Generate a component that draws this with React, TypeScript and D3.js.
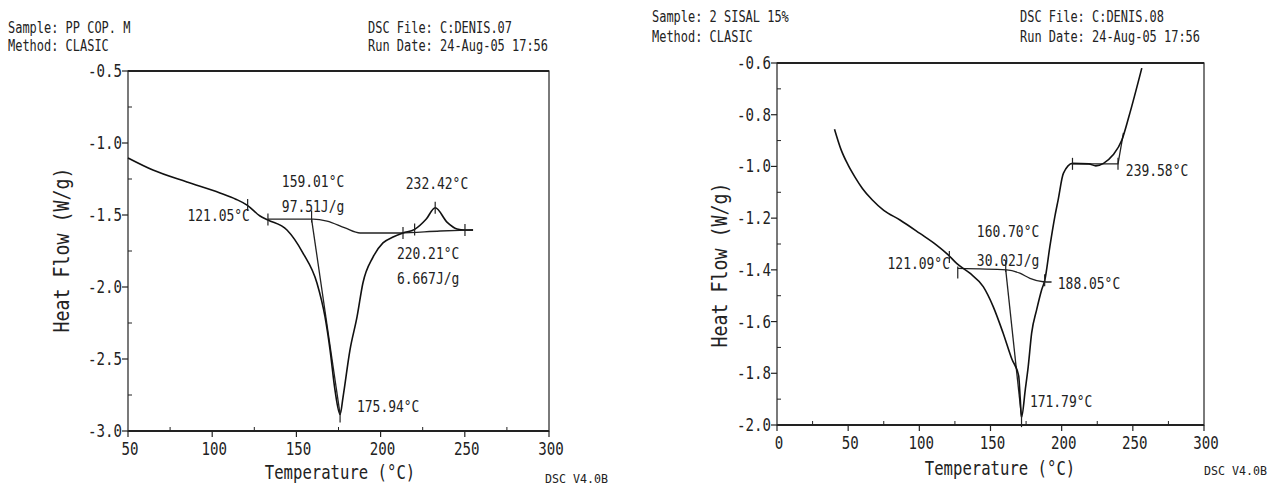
import React, { useEffect, useRef } from "react";
import * as d3 from "d3";

const FONT = "'DejaVu Sans Mono', monospace";

// ---- left run: PP COP. M (C:DENIS.07) ----
const ppHeader = ["Sample: PP COP. M", "Method: CLASIC", "DSC File: C:DENIS.07", "Run Date: 24-Aug-05 17:56"];
const ppXTicks = [50, 100, 150, 200, 250, 300];
const ppYTicks = [-0.5, -1.0, -1.5, -2.0, -2.5, -3.0];
const ppCurve: [number, number][] = [
  [50, -1.104], [64.8, -1.188], [85, -1.271], [104.6, -1.347], [114, -1.39], [120.7, -1.431],
  [128.4, -1.507], [133.1, -1.535], [144.4, -1.604], [153.9, -1.764], [162.2, -1.972],
  [167, -2.208], [170, -2.438], [172.9, -2.715], [175.94, -2.885], [177.7, -2.764],
  [181.8, -2.438], [186, -2.208], [189.5, -1.972], [195.5, -1.792], [201.4, -1.694],
  [207.4, -1.653], [213.3, -1.625], [220.21, -1.6], [227, -1.53], [232.42, -1.45],
  [239.4, -1.549], [245.4, -1.597], [250.1, -1.604], [254.9, -1.604],
];
const ppBaseline: [number, number][] = [
  [133.1, -1.528], [159.9, -1.528], [168.2, -1.542], [178.9, -1.59], [187.8, -1.625],
  [211.5, -1.625], [235.3, -1.611], [254.9, -1.604],
];
const ppIntegral: [number, number][] = [[159.01, -1.528], [175.94, -2.885]];
const ppMarks: [number, number][] = [
  [121.05, -1.431], [133.1, -1.532], [159.01, -1.51], [175.94, -2.9], [213.3, -1.625],
  [220.21, -1.6], [232.42, -1.45], [250.1, -1.604],
];
const ppLabels: { text: string; t: number; v: number; anchor: string }[] = [
  { text: "121.05°C", t: 122.4, v: -1.5, anchor: "end" },
  { text: "159.01°C", t: 159.9, v: -1.264, anchor: "middle" },
  { text: "97.51J/g", t: 159.9, v: -1.444, anchor: "middle" },
  { text: "232.42°C", t: 233.5, v: -1.278, anchor: "middle" },
  { text: "220.21°C", t: 209.7, v: -1.764, anchor: "start" },
  { text: "6.667J/g", t: 209.7, v: -1.9375, anchor: "start" },
  { text: "175.94°C", t: 186, v: -2.833, anchor: "start" },
];

// ---- right run: 2 SISAL 15% (C:DENIS.08) ----
const sisHeader = ["Sample: 2 SISAL 15%", "Method: CLASIC", "DSC File: C:DENIS.08", "Run Date: 24-Aug-05 17:56"];
const sisXTicks = [0, 50, 100, 150, 200, 250, 300];
const sisYTicks = [-0.6, -0.8, -1.0, -1.2, -1.4, -1.6, -1.8, -2.0];
const sisCurve: [number, number][] = [
  [40.4, -0.856], [45, -0.935], [50, -0.995], [55, -1.043], [60, -1.085], [67, -1.13],
  [75, -1.17], [86.4, -1.207], [100.4, -1.259], [112.1, -1.304], [120.3, -1.342], [126.2, -1.375],
  [135.5, -1.413], [144.9, -1.465], [151.9, -1.542], [158.9, -1.645], [165, -1.745],
  [169.8, -1.81], [170.9, -1.9], [171.79, -1.97], [174.5, -1.86], [176.5, -1.774],
  [178.9, -1.645], [182.4, -1.555], [185.9, -1.478], [188.2, -1.439], [191.7, -1.31],
  [195.2, -1.194], [197.5, -1.13], [201.2, -1.027], [207.6, -0.988], [219.1, -0.99],
  [224, -0.998], [229.4, -0.988], [236, -0.956], [242.3, -0.898], [247.2, -0.808],
  [256.3, -0.62],
];
const sisBaseline: [number, number][] = [
  [127, -1.394], [161.3, -1.4], [170.6, -1.413], [177.7, -1.433], [187, -1.446], [192.9, -1.447],
];
const sisIntegral: [number, number][] = [[160.7, -1.4], [171.79, -1.97]];
const sisStep: [number, number][] = [[207.6, -0.99], [239.58, -0.99], [243.4, -0.87]];
const sisMarks: [number, number][] = [
  [121.09, -1.35], [127, -1.41], [160.7, -1.385], [171.79, -1.985], [188.05, -1.44],
  [207.6, -0.99], [239.58, -0.99],
];
const sisLabels: { text: string; t: number; v: number; anchor: string }[] = [
  { text: "121.09°C", t: 121.5, v: -1.377, anchor: "end" },
  { text: "160.70°C", t: 140.4, v: -1.25, anchor: "start" },
  { text: "30.02J/g", t: 140.4, v: -1.362, anchor: "start" },
  { text: "188.05°C", t: 197.3, v: -1.451, anchor: "start" },
  { text: "171.79°C", t: 177.7, v: -1.911, anchor: "start" },
  { text: "239.58°C", t: 245.1, v: -1.014, anchor: "start" },
];

type Panel = {
  header: string[];
  headerY: [number, number];
  headerX: [number, number];
  xDomain: [number, number];
  yDomain: [number, number];
  left: number; right: number; top: number; bottom: number;
  xTicks: number[]; yTicks: number[];
  xMinor: number; yMinor: number;
  curve: [number, number][];
  baseline: [number, number][];
  integral: [number, number][];
  extra?: [number, number][];
  marks: [number, number][];
  labels: { text: string; t: number; v: number; anchor: string }[];
  yTitle: [number, number];
  xTitle: [number, number];
  version: [number, number];
};

const panels: Panel[] = [
  {
    header: ppHeader, headerY: [28, 46], headerX: [8, 368],
    xDomain: [50, 300], yDomain: [-3.0, -0.5],
    left: 128, right: 549, top: 71, bottom: 431,
    xTicks: ppXTicks, yTicks: ppYTicks, xMinor: 25, yMinor: 0.25,
    curve: ppCurve, baseline: ppBaseline, integral: ppIntegral, marks: ppMarks, labels: ppLabels,
    yTitle: [62, 250], xTitle: [340, 472], version: [545, 478],
  },
  {
    header: sisHeader, headerY: [17, 37], headerX: [652, 1020],
    xDomain: [0, 300], yDomain: [-2.0, -0.6],
    left: 777, right: 1204, top: 63, bottom: 425,
    xTicks: sisXTicks, yTicks: sisYTicks, xMinor: 25, yMinor: 0.1,
    curve: sisCurve, baseline: sisBaseline, integral: sisIntegral, extra: sisStep, marks: sisMarks, labels: sisLabels,
    yTitle: [720, 265], xTitle: [1000, 468], version: [1204, 470],
  },
];

const txt = (g: any, s: string, x: number, y: number, size: number, cw: number, anchor = "start") =>
  g.append("text")
    .attr("x", x).attr("y", y)
    .attr("dominant-baseline", "central")
    .attr("text-anchor", anchor)
    .attr("font-family", FONT)
    .attr("font-size", size)
    .attr("textLength", s.length * cw)
    .attr("lengthAdjust", "spacingAndGlyphs")
    .attr("fill", "#222")
    .text(s);

export default function App() {
  const svgRef = useRef<SVGSVGElement>(null);

  useEffect(() => {
    const svg = d3.select(svgRef.current);
    svg.selectAll("*").remove();

    panels.forEach(p => {
      const g = svg.append("g");
      const x = d3.scaleLinear().domain(p.xDomain).range([p.left, p.right]);
      const y = d3.scaleLinear().domain(p.yDomain).range([p.bottom, p.top]);

      // header
      txt(g, p.header[0], p.headerX[0], p.headerY[0], 15, 7.2);
      txt(g, p.header[1], p.headerX[0], p.headerY[1], 15, 7.2);
      txt(g, p.header[2], p.headerX[1], p.headerY[0], 15, 7.2);
      txt(g, p.header[3], p.headerX[1], p.headerY[1], 15, 7.2);

      // frame
      g.append("rect")
        .attr("x", p.left).attr("y", p.top)
        .attr("width", p.right - p.left).attr("height", p.bottom - p.top)
        .attr("fill", "none").attr("stroke", "#222").attr("stroke-width", 1.2);
      [p.top, p.bottom].forEach(yy =>
        g.append("line").attr("x1", p.left).attr("x2", p.right).attr("y1", yy).attr("y2", yy)
          .attr("stroke", "#222").attr("stroke-width", 2.2));

      // ticks (plain hyphen minus, as on the plotter)
      p.yTicks.forEach(v => {
        g.append("line").attr("x1", p.left - 6).attr("x2", p.left).attr("y1", y(v)).attr("y2", y(v))
          .attr("stroke", "#222").attr("stroke-width", 1.2);
        txt(g, v.toFixed(1), p.left - 6, y(v), 17, 8.5, "end");
      });
      d3.range(p.yDomain[0] + p.yMinor, p.yDomain[1], p.yMinor * 2).forEach(v =>
        g.append("line").attr("x1", p.left).attr("x2", p.left + 4).attr("y1", y(v)).attr("y2", y(v))
          .attr("stroke", "#222").attr("stroke-width", 1));
      p.xTicks.forEach(t => {
        g.append("line").attr("x1", x(t)).attr("x2", x(t)).attr("y1", p.bottom).attr("y2", p.bottom + 6)
          .attr("stroke", "#222").attr("stroke-width", 1.2);
        txt(g, String(t), x(t) + 2, p.bottom + 18, 17, 8.5, "middle");
      });
      d3.range(p.xDomain[0] + p.xMinor, p.xDomain[1], p.xMinor * 2).forEach(t =>
        g.append("line").attr("x1", x(t)).attr("x2", x(t)).attr("y1", p.bottom).attr("y2", p.bottom - 4)
          .attr("stroke", "#222").attr("stroke-width", 1));

      // titles
      txt(g, "Temperature (°C)", p.xTitle[0], p.xTitle[1], 19, 9.4, "middle");
      txt(g, "Heat Flow (W/g)", 0, 0, 21, 11, "middle")
        .attr("transform", `translate(${p.yTitle[0]},${p.yTitle[1]}) rotate(-90)`);
      txt(g, "DSC V4.0B", p.version[0], p.version[1], 13, 7);

      // traces
      const line = d3.line<[number, number]>().x(d => x(d[0])).y(d => y(d[1]));
      const smooth = d3.line<[number, number]>().x(d => x(d[0])).y(d => y(d[1])).curve(d3.curveMonotoneX);
      g.append("path").attr("d", smooth(p.baseline)).attr("fill", "none").attr("stroke", "#222").attr("stroke-width", 1.3);
      g.append("path").attr("d", line(p.integral)).attr("fill", "none").attr("stroke", "#222").attr("stroke-width", 1.3);
      if (p.extra) g.append("path").attr("d", line(p.extra)).attr("fill", "none").attr("stroke", "#222").attr("stroke-width", 1.3);
      g.append("path").attr("d", smooth(p.curve)).attr("fill", "none").attr("stroke", "#111").attr("stroke-width", 1.6);

      // cursor marks
      p.marks.forEach(([t, v]) =>
        g.append("line").attr("x1", x(t)).attr("x2", x(t)).attr("y1", y(v) - 6).attr("y2", y(v) + 6)
          .attr("stroke", "#222").attr("stroke-width", 1.2));

      // annotations
      p.labels.forEach(l => txt(g, l.text, x(l.t), y(l.v), 16, 7.8, l.anchor));
    });
  }, []);

  return (
    <svg ref={svgRef} width={1281} height={490}
      style={{ position: "absolute", left: 0, top: 0, background: "#fff" }} />
  );
}
